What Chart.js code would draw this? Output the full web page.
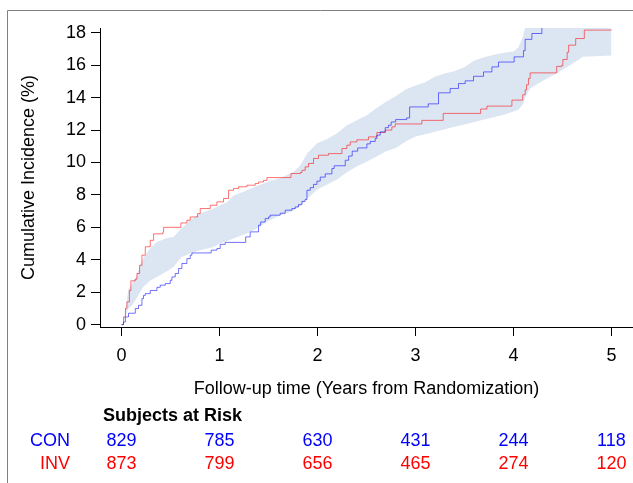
<!DOCTYPE html>
<html>
<head>
<meta charset="utf-8">
<title>Cumulative Incidence</title>
<script src="https://cdn.jsdelivr.net/npm/chart.js@4.4.1/dist/chart.umd.min.js"></script>
<style>
  html, body { margin: 0; padding: 0; background: #ffffff; }
  canvas { display: block; }
</style>
</head>
<body>
<canvas id="chart" width="633" height="483"></canvas>
<script>
// Step curves: follow-up time (years) and cumulative incidence (%)
const conTime = [0, 0.02, 0.039, 0.071, 0.14, 0.173, 0.208, 0.224, 0.242, 0.293, 0.361, 0.395, 0.446, 0.497, 0.514, 0.548, 0.582, 0.616, 0.667, 0.701, 0.718, 0.915, 0.973, 1.007, 1.058, 1.267, 1.313, 1.398, 1.42, 1.466, 1.5, 1.517, 1.619, 1.67, 1.739, 1.772, 1.806, 1.841, 1.874, 1.892, 1.926, 1.959, 1.994, 2.028, 2.079, 2.147, 2.17, 2.283, 2.318, 2.354, 2.41, 2.504, 2.538, 2.589, 2.606, 2.64, 2.691, 2.724, 2.752, 2.798, 2.91, 2.94, 3.13, 3.235, 3.354, 3.439, 3.507, 3.592, 3.694, 3.78, 3.847, 4.007, 4.102, 4.119, 4.188, 4.29, 4.9];
const conPct = [0, 0.16, 0.47, 0.7, 0.99, 1.19, 1.6, 1.8, 1.91, 2.1, 2.3, 2.43, 2.53, 2.73, 2.94, 3.15, 3.46, 3.77, 4.07, 4.28, 4.42, 4.59, 4.69, 4.95, 5.07, 5.41, 5.72, 6.13, 6.33, 6.54, 6.64, 6.75, 6.87, 7.06, 7.16, 7.26, 7.4, 7.6, 7.72, 8.29, 8.45, 8.65, 8.85, 9.1, 9.3, 9.63, 9.8, 10.14, 10.4, 10.7, 10.9, 11.15, 11.3, 11.48, 11.69, 11.89, 12.15, 12.3, 12.5, 12.65, 12.75, 13.43, 13.62, 14.3, 14.57, 14.87, 15.04, 15.32, 15.59, 15.9, 16.2, 16.52, 16.9, 17.6, 17.96, 19.3, 19.3];

const invTime = [0, 0.02, 0.04, 0.055, 0.08, 0.095, 0.14, 0.157, 0.184, 0.208, 0.242, 0.293, 0.327, 0.422, 0.429, 0.606, 0.667, 0.701, 0.776, 0.803, 0.905, 0.973, 1.041, 1.092, 1.143, 1.194, 1.28, 1.364, 1.398, 1.449, 1.484, 1.729, 1.824, 1.841, 1.874, 1.908, 1.959, 2.01, 2.112, 2.249, 2.3, 2.334, 2.402, 2.52, 2.606, 2.691, 2.759, 2.793, 3.065, 3.283, 3.665, 3.729, 3.984, 4.094, 4.119, 4.133, 4.153, 4.17, 4.441, 4.494, 4.504, 4.548, 4.563, 4.635, 4.723, 5.0];
const invPct = [0, 0.47, 1.0, 1.4, 2.1, 2.7, 2.8, 3.15, 3.66, 4.28, 4.8, 5.2, 5.6, 5.7, 6.0, 6.27, 6.44, 6.64, 6.85, 7.16, 7.36, 7.57, 7.78, 8.29, 8.4, 8.5, 8.6, 8.7, 8.8, 8.9, 9.07, 9.32, 9.38, 9.52, 9.73, 9.94, 10.25, 10.45, 10.55, 10.86, 11.07, 11.27, 11.4, 11.58, 11.85, 12.0, 12.2, 12.38, 12.6, 13.03, 13.3, 13.48, 13.85, 14.18, 14.48, 14.8, 15.18, 15.53, 15.93, 16.0, 16.36, 16.8, 17.24, 17.65, 18.17, 18.17];

// Shaded band (lower / upper bound, %)
const bandTime = [0, 0.03, 0.07, 0.1, 0.12, 0.15, 0.19, 0.22, 0.29, 0.36, 0.45, 0.48, 0.53, 0.61, 0.7, 0.8, 0.94, 1.0, 1.08, 1.14, 1.28, 1.38, 1.45, 1.48, 1.62, 1.72, 1.76, 1.82, 1.9, 2.0, 2.1, 2.2, 2.3, 2.4, 2.5, 2.6, 2.7, 2.8, 2.9, 3.0, 3.1, 3.2, 3.3, 3.4, 3.5, 3.6, 3.7, 3.8, 3.9, 4.0, 4.05, 4.1, 4.12, 4.15, 4.17, 4.3, 4.44, 4.6, 4.71, 5.0];
const bandLow = [0, 0.4, 0.99, 1.15, 1.3, 1.6, 2.0, 2.32, 2.7, 2.94, 3.25, 3.35, 3.56, 4.15, 4.38, 4.59, 4.79, 5.0, 5.15, 5.31, 5.62, 5.93, 6.2, 6.33, 6.75, 6.95, 7.06, 7.3, 7.8, 8.35, 8.65, 8.95, 9.4, 9.75, 10.05, 10.35, 10.7, 10.9, 11.3, 11.6, 11.75, 11.9, 12.05, 12.2, 12.35, 12.5, 12.65, 12.8, 12.95, 13.15, 13.25, 13.6, 14.05, 14.35, 14.57, 15.05, 15.5, 16.1, 16.52, 16.6];
const bandHigh = [0, 0.5, 2.2, 2.43, 2.7, 2.94, 3.66, 4.07, 4.69, 5.1, 5.31, 5.36, 5.41, 5.93, 6.44, 6.85, 7.16, 7.35, 7.57, 7.95, 8.29, 8.55, 8.7, 8.8, 9.05, 9.32, 9.45, 9.8, 10.6, 11.2, 11.45, 11.8, 12.3, 12.6, 12.9, 13.35, 13.75, 14.1, 14.5, 14.75, 14.95, 15.3, 15.5, 15.65, 15.9, 16.3, 16.5, 16.65, 16.78, 16.85, 17.1, 17.8, 18.4, 18.9, 19.0, 19.0, 19.0, 19.0, 19.0, 19.0];

// Axis ticks
const xTickVals = [0, 1, 2, 3, 4, 5];
const yTickVals = [0, 2, 4, 6, 8, 10, 12, 14, 16, 18];

// Numbers at risk at each year
const riskYears = [0, 1, 2, 3, 4, 5];
const conRisk = [829, 785, 630, 431, 244, 118];
const invRisk = [873, 799, 656, 465, 274, 120];

const xTitle = 'Follow-up time (Years from Randomization)';
const yTitle = 'Cumulative Incidence (%)';
const riskTitle = 'Subjects at Risk';
const groupNames = ['CON', 'INV'];

const FONT = '"Liberation Sans", Arial, Helvetica, sans-serif';
const BLUE = '#0000ff';
const RED = '#ff0000';

const toXY = (xs, ys) => xs.map((x, i) => ({ x: x, y: ys[i] }));

Chart.defaults.font.family = FONT;
Chart.defaults.font.size = 18;
Chart.defaults.color = '#000000';

// White page with the thin grey frame along the top and left
const framePlugin = {
  id: 'frame',
  beforeDraw(chart) {
    const ctx = chart.ctx;
    ctx.save();
    ctx.fillStyle = '#ffffff';
    ctx.fillRect(0, 0, chart.width, chart.height);
    ctx.strokeStyle = '#808080';
    ctx.lineWidth = 1;
    ctx.beginPath();
    ctx.moveTo(7.5, chart.height);
    ctx.lineTo(7.5, 10.5);
    ctx.lineTo(chart.width, 10.5);
    ctx.stroke();
    ctx.restore();
  }
};

// Table of subjects at risk under the x axis
const riskTablePlugin = {
  id: 'riskTable',
  afterDraw(chart) {
    const ctx = chart.ctx;
    const xs = chart.scales.x;
    ctx.save();
    ctx.textBaseline = 'middle';
    ctx.font = 'bold 18px ' + FONT;
    ctx.fillStyle = '#000000';
    ctx.textAlign = 'left';
    ctx.fillText(riskTitle, 103, 416);

    const rows = [
      { name: groupNames[0], values: conRisk, color: BLUE, y: 441 },
      { name: groupNames[1], values: invRisk, color: RED, y: 464 }
    ];
    ctx.font = '18px ' + FONT;
    rows.forEach(row => {
      ctx.fillStyle = row.color;
      ctx.textAlign = 'right';
      ctx.fillText(row.name, 70, row.y);
      ctx.textAlign = 'center';
      row.values.forEach((v, i) => {
        ctx.fillText(String(v), xs.getPixelForValue(riskYears[i]), row.y);
      });
    });
    ctx.restore();
  }
};

new Chart(document.getElementById('chart'), {
  type: 'line',
  data: {
    datasets: [
      {
        label: groupNames[0],
        data: toXY(conTime, conPct),
        borderColor: 'rgba(0,0,255,0.55)',
        borderWidth: 1,
        stepped: 'before',
        pointRadius: 0,
        fill: false
      },
      {
        label: groupNames[1],
        data: toXY(invTime, invPct),
        borderColor: 'rgba(255,0,0,0.55)',
        borderWidth: 1,
        stepped: 'before',
        pointRadius: 0,
        fill: false
      },
      {
        label: 'lower',
        data: toXY(bandTime, bandLow),
        borderWidth: 0,
        borderColor: 'rgba(0,0,0,0)',
        pointRadius: 0,
        fill: false
      },
      {
        label: 'upper',
        data: toXY(bandTime, bandHigh),
        borderWidth: 0,
        borderColor: 'rgba(0,0,0,0)',
        backgroundColor: 'rgb(220,230,242)',
        pointRadius: 0,
        fill: '-1'
      }
    ]
  },
  options: {
    responsive: false,
    devicePixelRatio: 1,
    animation: false,
    events: [],
    layout: { padding: { top: 28, right: 0, bottom: 83, left: 0 } },
    plugins: {
      legend: { display: false },
      tooltip: { enabled: false },
      filler: { propagate: false }
    },
    scales: {
      x: {
        type: 'linear',
        min: -0.22,
        max: 5.22,
        afterBuildTicks(scale) { scale.ticks = xTickVals.map(v => ({ value: v })); },
        afterFit(scale) { scale.height = 73; },
        grid: { drawOnChartArea: false, drawTicks: true, tickLength: 9, tickColor: '#000000', tickWidth: 1 },
        border: { display: true, color: '#000000', width: 1 },
        ticks: { padding: 9, color: '#000000', maxRotation: 0, autoSkip: false, font: { size: 18 } },
        title: { display: true, text: xTitle, color: '#000000', font: { size: 18 }, padding: { top: 0, bottom: 0 } }
      },
      y: {
        type: 'linear',
        min: -0.15,
        max: 18.3,
        afterBuildTicks(scale) { scale.ticks = yTickVals.map(v => ({ value: v })); },
        afterFit(scale) { scale.width = 100; },
        grid: { drawOnChartArea: false, drawTicks: true, tickLength: 9, tickColor: '#000000', tickWidth: 1 },
        border: { display: true, color: '#000000', width: 1 },
        ticks: { padding: 5, color: '#000000', autoSkip: false, font: { size: 18 } },
        title: { display: true, text: yTitle, color: '#000000', font: { size: 18 }, padding: { top: 18, bottom: 0 } }
      }
    }
  },
  plugins: [framePlugin, riskTablePlugin]
});
</script>
</body>
</html>
